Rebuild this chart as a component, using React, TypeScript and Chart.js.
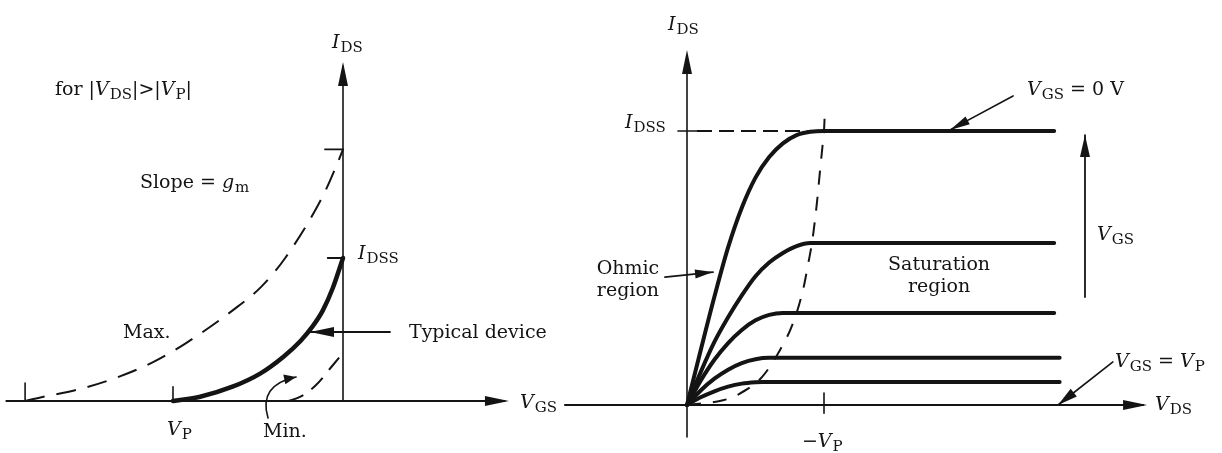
import React, { useEffect, useRef } from 'react';
import { Chart, registerables } from 'chart.js';
Chart.register(...registerables);

// ---------- LEFT: transfer characteristic (V_GS / |V_P|, I_DS / I_DSS) ----------
const MAX_VGS = [-1.87, -1.78, -1.56, -1.34, -1.12, -0.93, -0.62, -0.48, -0.34, -0.12, -0.03, 0];
const MAX_IDS = [0, 0.025, 0.08, 0.16, 0.27, 0.4, 0.66, 0.8, 1.0, 1.43, 1.67, 1.76];
const TYP_VGS = [-1, -0.84, -0.65, -0.49, -0.35, -0.25, -0.18, -0.12, -0.06, 0];
const TYP_IDS = [0, 0.03, 0.1, 0.19, 0.31, 0.42, 0.52, 0.63, 0.79, 1.0];
const MIN_VGS = [-0.32, -0.25, -0.16, -0.06, 0];
const MIN_IDS = [0, 0.03, 0.11, 0.25, 0.336];
const LEFT_VGS_TICKS = [-1.87, -1.0];
const LEFT_IDS_TICKS = [1.0, 1.76];

// ---------- RIGHT: output characteristics (V_DS / |V_P|, I_DS / I_DSS) ----------
const VDS_A = [0, 0.1, 0.2, 0.3, 0.4, 0.5, 0.6, 0.7, 0.8, 0.9, 1.0, 2.68];
const IDS_A = [0, 0.2, 0.395, 0.575, 0.72, 0.83, 0.905, 0.955, 0.985, 0.997, 1.0, 1.0];
const VDS_B = [0, 0.1, 0.2, 0.3, 0.4, 0.5, 0.6, 0.7, 0.8, 0.9, 2.68];
const IDS_B = [0, 0.12, 0.23, 0.32, 0.4, 0.47, 0.52, 0.555, 0.58, 0.591, 0.591];
const VDS_C = [0, 0.1, 0.2, 0.3, 0.4, 0.5, 0.6, 0.7, 2.68];
const IDS_C = [0, 0.089, 0.165, 0.226, 0.274, 0.309, 0.329, 0.336, 0.336];
const VDS_D = [0, 0.1, 0.2, 0.3, 0.4, 0.5, 0.6, 2.72];
const IDS_D = [0, 0.053, 0.096, 0.129, 0.153, 0.167, 0.172, 0.172];
const VDS_E = [0, 0.1, 0.2, 0.3, 0.4, 0.5, 0.55, 2.72];
const IDS_E = [0, 0.028, 0.05, 0.067, 0.078, 0.083, 0.084, 0.084];
const PINCH_VDS = [0, 0.27, 0.365, 0.547, 0.679, 0.774, 0.847, 0.883, 0.912, 0.927, 0.949, 0.97, 0.99, 1.0, 1.006];
const PINCH_IDS = [0, 0.018, 0.036, 0.102, 0.201, 0.299, 0.42, 0.511, 0.591, 0.646, 0.741, 0.85, 0.95, 1.0, 1.069];
const IDSS_LEVEL = 1.0;
const MINUS_VP = 1.0;

const INK = '#141414';
const FONT = '"DejaVu Serif", "Liberation Serif", serif';

type Seg = { t: string; it?: boolean; sub?: boolean };
type P = [number, number];
type Deco =
  | { k: 'text'; at: P; segs: Seg[]; align?: 'left' | 'center' }
  | { k: 'arrow'; from: P; to: P; len: number; w: number; lw: number }
  | { k: 'head'; tip: P; from: P; len: number; w: number }
  | { k: 'curve'; from: P; ctrl: P; to: P; len: number; w: number; lw: number };

const segFont = (s: Seg) => (s.sub ? `15px ${FONT}` : `${s.it ? 'italic ' : ''}19px ${FONT}`);

function drawRich(ctx: CanvasRenderingContext2D, x: number, y: number, segs: Seg[], align: string) {
  let w = 0;
  for (const s of segs) {
    ctx.font = segFont(s);
    w += ctx.measureText(s.t).width;
  }
  let cx = align === 'center' ? x - w / 2 : x;
  for (const s of segs) {
    ctx.font = segFont(s);
    ctx.fillText(s.t, cx, y + (s.sub ? 4 : 0));
    cx += ctx.measureText(s.t).width + (s.it && !s.sub ? 1 : 0);
  }
}

function drawHead(ctx: CanvasRenderingContext2D, tx: number, ty: number, fx: number, fy: number, len: number, w: number) {
  const a = Math.atan2(ty - fy, tx - fx);
  const bx = tx - Math.cos(a) * len;
  const by = ty - Math.sin(a) * len;
  const nx = -Math.sin(a) * (w / 2);
  const ny = Math.cos(a) * (w / 2);
  ctx.beginPath();
  ctx.moveTo(tx, ty);
  ctx.lineTo(bx + nx, by + ny);
  ctx.lineTo(bx - nx, by - ny);
  ctx.closePath();
  ctx.fill();
}

function decorPlugin(items: Deco[]) {
  return {
    id: 'decor',
    afterDatasetsDraw(chart: any) {
      const ctx: CanvasRenderingContext2D = chart.ctx;
      const xs = chart.scales.x;
      const ys = chart.scales.y;
      const px = (p: P): P => [xs.getPixelForValue(p[0]), ys.getPixelForValue(p[1])];
      ctx.save();
      ctx.fillStyle = INK;
      ctx.strokeStyle = INK;
      ctx.textBaseline = 'alphabetic';
      ctx.lineCap = 'round';
      for (const d of items) {
        if (d.k === 'text') {
          const [x, y] = px(d.at);
          drawRich(ctx, x, y, d.segs, d.align || 'left');
        } else if (d.k === 'head') {
          const [tx, ty] = px(d.tip);
          const [fx, fy] = px(d.from);
          drawHead(ctx, tx, ty, fx, fy, d.len, d.w);
        } else if (d.k === 'arrow') {
          const [fx, fy] = px(d.from);
          const [tx, ty] = px(d.to);
          ctx.lineWidth = d.lw;
          ctx.beginPath();
          ctx.moveTo(fx, fy);
          ctx.lineTo(tx, ty);
          ctx.stroke();
          drawHead(ctx, tx, ty, fx, fy, d.len, d.w);
        } else if (d.k === 'curve') {
          const [fx, fy] = px(d.from);
          const [cx, cy] = px(d.ctrl);
          const [tx, ty] = px(d.to);
          ctx.lineWidth = d.lw;
          ctx.beginPath();
          ctx.moveTo(fx, fy);
          ctx.quadraticCurveTo(cx, cy, tx, ty);
          ctx.stroke();
          drawHead(ctx, tx, ty, cx, cy, d.len, d.w);
        }
      }
      ctx.restore();
    },
  };
}

function line(xs: number[], ys: number[], width: number, dash: number[] = []) {
  return {
    data: xs.map((x, i) => ({ x, y: ys[i] })),
    showLine: true,
    borderColor: INK,
    backgroundColor: INK,
    borderWidth: width,
    borderDash: dash,
    borderCapStyle: dash.length ? 'butt' : 'round',
    borderJoinStyle: 'round',
    pointRadius: 0,
    pointHoverRadius: 0,
    cubicInterpolationMode: 'monotone',
    fill: false,
  };
}

function makeConfig(datasets: any[], x: [number, number], y: [number, number], deco: Deco[]): any {
  return {
    type: 'scatter',
    data: { datasets },
    options: {
      animation: false,
      responsive: false,
      maintainAspectRatio: false,
      events: [],
      layout: { padding: 0 },
      plugins: { legend: { display: false }, tooltip: { enabled: false }, title: { display: false } },
      scales: {
        x: { type: 'linear', display: false, min: x[0], max: x[1] },
        y: { type: 'linear', display: false, min: y[0], max: y[1] },
      },
    },
    plugins: [decorPlugin(deco)],
  };
}

const it = (t: string): Seg => ({ t, it: true });
const sub = (t: string): Seg => ({ t, sub: true });
const rm = (t: string): Seg => ({ t });

export default function App() {
  const leftRef = useRef<HTMLCanvasElement>(null);
  const rightRef = useRef<HTMLCanvasElement>(null);

  useEffect(() => {
    // ----- left chart -----
    const leftSets = [
      line([-1.98, 0.95], [0, 0], 2),
      line([0, 0], [0, 2.34], 1.6),
      line([LEFT_VGS_TICKS[0], LEFT_VGS_TICKS[0]], [0, 0.126], 1.6),
      line([LEFT_VGS_TICKS[1], LEFT_VGS_TICKS[1]], [0, 0.1], 1.6),
      line([-0.09, 0], [LEFT_IDS_TICKS[0], LEFT_IDS_TICKS[0]], 1.8),
      line([-0.106, 0], [LEFT_IDS_TICKS[1], LEFT_IDS_TICKS[1]], 1.8),
      line(MAX_VGS, MAX_IDS, 2, [20, 12]),
      line(TYP_VGS, TYP_IDS, 4.5),
      line(MIN_VGS, MIN_IDS, 2, [16, 10]),
    ];
    const leftDeco: Deco[] = [
      { k: 'head', tip: [0.976, 0], from: [0.5, 0], len: 24, w: 10 },
      { k: 'head', tip: [0, 2.371], from: [0, 2], len: 24, w: 10 },
      { k: 'text', at: [-0.065, 2.469], segs: [it('I'), sub('DS')] },
      { k: 'text', at: [-1.694, 2.14], segs: [rm('for |'), it('V'), sub('DS'), rm('|>|'), it('V'), sub('P'), rm('|')] },
      { k: 'text', at: [-1.194, 1.49], segs: [rm('Slope = '), it('g'), sub('m')] },
      { k: 'text', at: [0.088, 0.993], segs: [it('I'), sub('DSS')] },
      { k: 'text', at: [-1.294, 0.44], segs: [rm('Max.')] },
      { k: 'text', at: [0.388, 0.44], segs: [rm('Typical device')] },
      { k: 'arrow', from: [0.276, 0.483], to: [-0.194, 0.483], len: 24, w: 10, lw: 2 },
      { k: 'text', at: [-0.471, -0.252], segs: [rm('Min.')] },
      { k: 'text', at: [-1.035, -0.238], segs: [it('V'), sub('P')] },
      { k: 'text', at: [1.041, -0.049], segs: [it('V'), sub('GS')] },
      { k: 'curve', from: [-0.441, -0.119], ctrl: [-0.5, 0.112], to: [-0.276, 0.168], len: 12, w: 10, lw: 1.6 },
    ];
    const c1 = new Chart(
      leftRef.current as HTMLCanvasElement,
      makeConfig(leftSets, [-2.0176, 1.2882], [-0.3636, 2.8042], leftDeco)
    );

    // ----- right chart -----
    const rightSets = [
      line([-0.891, 3.33], [0, 0], 2),
      line([0, 0], [-0.117, 1.27], 1.6),
      line([-0.066, 0.073], [IDSS_LEVEL, IDSS_LEVEL], 1.6),
      line([MINUS_VP, MINUS_VP], [-0.03, 0.044], 1.6),
      line([0.073, MINUS_VP], [IDSS_LEVEL, IDSS_LEVEL], 2, [15, 7]),
      line(PINCH_VDS, PINCH_IDS, 2, [14, 12]),
      line(VDS_A, IDS_A, 4),
      line(VDS_B, IDS_B, 4),
      line(VDS_C, IDS_C, 4),
      line(VDS_D, IDS_D, 4),
      line(VDS_E, IDS_E, 4),
    ];
    const rightDeco: Deco[] = [
      { k: 'head', tip: [3.358, 0], from: [3.0, 0], len: 24, w: 10 },
      { k: 'head', tip: [0, 1.296], from: [0, 1.0], len: 24, w: 10 },
      { k: 'text', at: [-0.139, 1.369], segs: [it('I'), sub('DS')] },
      { k: 'text', at: [-0.453, 1.011], segs: [it('I'), sub('DSS')] },
      { k: 'text', at: [2.482, 1.131], segs: [it('V'), sub('GS'), rm(' = 0 V')] },
      { k: 'arrow', from: [2.38, 1.128], to: [1.92, 1.004], len: 20, w: 9, lw: 1.6 },
      { k: 'text', at: [-0.431, 0.478], segs: [rm('Ohmic')], align: 'center' },
      { k: 'text', at: [-0.431, 0.398], segs: [rm('region')], align: 'center' },
      { k: 'arrow', from: [-0.161, 0.467], to: [0.19, 0.485], len: 18, w: 9, lw: 1.8 },
      { k: 'text', at: [1.84, 0.493], segs: [rm('Saturation')], align: 'center' },
      { k: 'text', at: [1.84, 0.412], segs: [rm('region')], align: 'center' },
      { k: 'arrow', from: [2.905, 0.394], to: [2.905, 0.985], len: 22, w: 10, lw: 1.8 },
      { k: 'text', at: [2.993, 0.602], segs: [it('V'), sub('GS')] },
      { k: 'text', at: [3.124, 0.139], segs: [it('V'), sub('GS'), rm(' = '), it('V'), sub('P')] },
      { k: 'arrow', from: [3.109, 0.157], to: [2.708, 0], len: 20, w: 10, lw: 1.6 },
      { k: 'text', at: [3.416, -0.018], segs: [it('V'), sub('DS')] },
      { k: 'text', at: [0.839, -0.153], segs: [rm('\u2212'), it('V'), sub('P')] },
    ];
    const c2 = new Chart(
      rightRef.current as HTMLCanvasElement,
      makeConfig(rightSets, [-0.9124, 3.9051], [-0.1752, 1.4781], rightDeco)
    );

    return () => {
      c1.destroy();
      c2.destroy();
    };
  }, []);

  return (
    <div style={{ position: 'fixed', left: 0, top: 0, width: 1222, height: 453, background: '#fff', overflow: 'hidden' }}>
      <canvas ref={leftRef} width={562} height={453} style={{ position: 'absolute', left: 0, top: 0, width: 562, height: 453 }} />
      <canvas ref={rightRef} width={660} height={453} style={{ position: 'absolute', left: 562, top: 0, width: 660, height: 453 }} />
    </div>
  );
}
